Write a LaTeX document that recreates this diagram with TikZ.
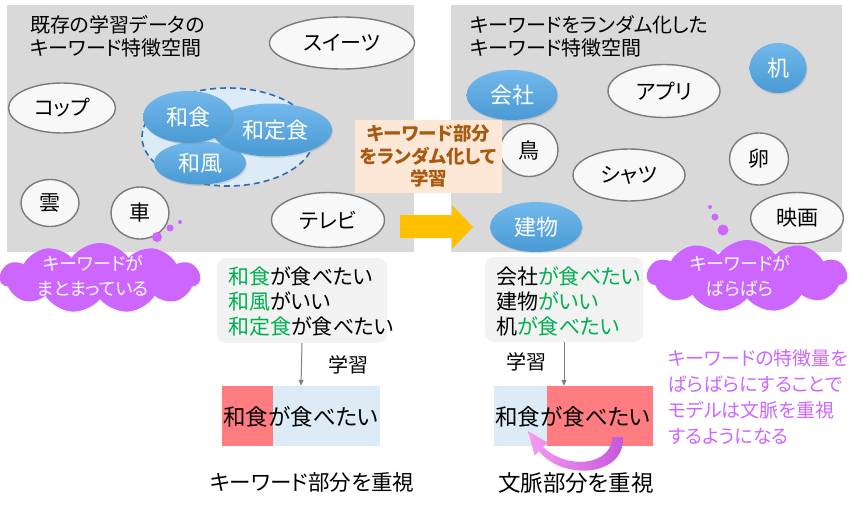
\documentclass[tikz,border=0pt]{standalone}
\usepackage{fontspec}
\setmainfont{Noto Sans CJK JP}[RawFeature=+palt]
\usetikzlibrary{shapes.geometric,shapes.symbols,arrows.meta,shadows}
\newcommand\myfs[2]{\fontsize{#1}{#2}\selectfont}
\definecolor{panelgray}{HTML}{D9D9D9}
\definecolor{ringgray}{HTML}{7A7A7A}
\definecolor{ellfill}{HTML}{F8F8F8}
\definecolor{blueTop}{HTML}{72B8EC}
\definecolor{blueBot}{HTML}{4A9AD4}
\definecolor{grpfill}{HTML}{DDEBF7}
\definecolor{grpline}{HTML}{2E6DB0}
\definecolor{peach}{HTML}{FDE8D8}
\definecolor{brown}{HTML}{A85A10}
\definecolor{arrowyellow}{HTML}{FFC000}
\definecolor{cloudpurple}{HTML}{CC66FF}
\definecolor{sentfill}{HTML}{F2F2F2}
\definecolor{kwgreen}{HTML}{00B050}
\definecolor{barred}{HTML}{FF7C80}
\definecolor{barblue}{HTML}{DDEBF7}
\definecolor{txtpurple}{HTML}{CC66FF}
\definecolor{arrowgray}{HTML}{808080}
\definecolor{curvepink}{HTML}{F59CF2}
\definecolor{curvepurple}{HTML}{C457DA}
\begin{document}
\begin{tikzpicture}[x=1pt,y=-1pt,
  panelbox/.style={rectangle, fill=panelgray, inner sep=0pt},
  wellip/.style={ellipse, draw=ringgray, line width=1.4pt, fill=ellfill, inner sep=0pt, font=\myfs{21}{25}},
  bellip/.style={ellipse, top color=blueTop, bottom color=blueBot, draw=none, inner sep=0pt, text=white, font=\myfs{22}{26},
    drop shadow={opacity=0.25, shadow xshift=1pt, shadow yshift=-1.5pt}},
  titletxt/.style={anchor=west, align=left, inner sep=0pt, font=\myfs{20}{23}},
  cloudshape/.style={cloud, cloud puffs=11, cloud puff arc=110, cloud ignores aspect, fill=cloudpurple, inner sep=0pt},
  cloudtxt/.style={align=center, text=white, inner sep=0pt, font=\myfs{18}{25}},
  bubble/.style={circle, fill=cloudpurple, inner sep=0pt},
  sentbox/.style={rectangle, rounded corners=9pt, fill=sentfill, inner sep=0pt},
  senttxt/.style={anchor=west, align=left, inner sep=0pt, font=\myfs{21}{25}},
  barpart/.style={rectangle, inner sep=0pt, minimum height=60pt},
  bartxt/.style={inner sep=0pt, font=\myfs{22.5}{26}},
  garrow/.style={draw=arrowgray, line width=1pt, -{Triangle[length=6pt,width=5pt]}},
  lbl/.style={inner sep=0pt, font=\myfs{20}{24}},
  sz/.style 2 args={minimum width=#1pt, minimum height=#2pt}
]
\useasboundingbox (0,0) rectangle (865,511);
\fill[white] (0,0) rectangle (865,511);

% panels
\node[panelbox, sz={407}{247}] (lpanel) at (210.5,128.5) {};
\node[panelbox, sz={391}{247}] (rpanel) at (646.5,128.5) {};

\node[titletxt] (ltitle) at (30,36.5) {既存の学習データの\\キーワード特徴空間};
\node[titletxt] (rtitle) at (470,36.5) {キーワードをランダム化した\\キーワード特徴空間};

% left feature space
\node[ellipse, fill=grpfill, draw=grpline, line width=1.6pt, dash pattern=on 6pt off 4pt, sz={172}{98}] (wgroup) at (228,137) {};
\node[wellip, sz={145}{52}] (sweets) at (342,43) {スイーツ};
\node[wellip, sz={107}{50}] (cup) at (62,108) {コップ};
\node[wellip, sz={58}{47}] (kumo) at (50,203) {雲};
\node[wellip, sz={58}{52}] (kuruma) at (140,213) {車};
\node[wellip, sz={113}{55}] (terebi) at (328,220) {テレビ};
\node[bellip, sz={92}{43}] (wafu) at (200,163) {和風};
\node[bellip, sz={120}{53}] (wateishoku) at (272,130) {\hspace*{6pt}和定食};
\node[bellip, sz={90}{52}] (washoku) at (188,117) {和食};

% right feature space
\node[bellip, sz={57}{50}] (tsukue) at (778,68) {机};
\node[bellip, sz={91}{50}] (kaisha) at (512,95) {会社};
\node[wellip, sz={112}{53}] (apuri) at (664,91) {アプリ};
\node[wellip, sz={58}{53}] (tori) at (529,150) {鳥};
\node[wellip, sz={112}{52}] (shatsu) at (629,175) {シャツ};
\node[wellip, sz={59}{52}] (tamago) at (759,159) {卵};
\node[wellip, sz={93}{51}] (eiga) at (797,218) {映画};
\node[bellip, sz={92}{50}] (tatemono) at (536,227) {建物};

% middle box and block arrow
\node[rectangle, fill=peach, inner sep=0pt, sz={147}{73}, align=center, text=brown, font=\bfseries\myfs{18.5}{22.5}] (midbox) at (428.5,156.5) {キーワード部分\\をランダム化して\\学習};
\fill[arrowyellow] (400,215) -- (452,215) -- (452,205) -- (473,227) -- (452,249) -- (452,238) -- (400,238) -- cycle;

% clouds
\node[cloudshape, sz={200}{70}] (lcloud) at (100,278) {};
\node[cloudtxt] (lcloudtxt) at (93,275.5) {キーワードが\\まとまっている};
\node[bubble, minimum size=10pt] (lb1) at (157,237) {};
\node[bubble, minimum size=7pt] (lb2) at (170,228) {};
\node[bubble, minimum size=4pt] (lb3) at (180,222) {};

\node[cloudshape, sz={200}{72}] (rcloud) at (747,276) {};
\node[cloudtxt] (rcloudtxt) at (740,276) {キーワードが\\ばらばら};
\node[bubble, minimum size=11pt] (rb1) at (723,230) {};
\node[bubble, minimum size=7pt] (rb2) at (715,217) {};
\node[bubble, minimum size=4pt] (rb3) at (710,207) {};

% sentence boxes
\node[sentbox, sz={170}{85}] (lsent) at (302,300.5) {};
\node[senttxt] (lsenttxt) at (228,302) {\textcolor{kwgreen}{和食}が食べたい\\\textcolor{kwgreen}{和風}がいい\\\textcolor{kwgreen}{和定食}が食べたい};
\node[sentbox, sz={158}{85}] (rsent) at (564,299.5) {};
\node[senttxt] (rsenttxt) at (496,301) {会社\textcolor{kwgreen}{が食べたい}\\建物\textcolor{kwgreen}{がいい}\\机\textcolor{kwgreen}{が食べたい}};

% bars
\node[barpart, fill=barblue, minimum width=158pt] (lbar) at (301,416) {};
\node[barpart, fill=barred, minimum width=51pt] (lbarkey) at (247.5,416) {};
\node[bartxt] (lbartxt) at (301,417) {和食が食べたい};
\node[barpart, fill=barred, minimum width=159pt] (rbar) at (573.5,416) {};
\node[barpart, fill=barblue, minimum width=53pt] (rbarkey) at (520.5,416) {};
\node[bartxt] (rbartxt) at (573,417) {和食が食べたい};

% learning arrows
\draw[garrow] (lsent.south) -- (lbar.north);
\draw[garrow] (rsent.south) -- (rsent.south |- rbar.north);
\node[lbl] (llearn) at (348,365) {学習};
\node[lbl] (rlearn) at (526,362) {学習};

% curved emphasis arrow
\shade[left color=curvepink, right color=curvepurple]
  (612,437) .. controls (612,466) and (566,470) .. (543.1,446.9)
  -- (547.4,442.6) -- (528,431) -- (534.6,455.4) -- (538.9,451.1)
  .. controls (561,480) and (625,478) .. (623,437) -- cycle;

% bottom labels
\node[lbl, font=\myfs{21.5}{25}] (lfocus) at (312,482) {キーワード部分を重視};
\node[lbl, font=\myfs{22.5}{26}] (rfocus) at (576,483) {文脈部分を重視};

\node[anchor=west, align=left, inner sep=0pt, text=txtpurple, font=\myfs{19}{25.7}] (note) at (668,397) {キーワードの特徴量を\\ばらばらにすることで\\モデルは文脈を重視\\するようになる};
\end{tikzpicture}
\end{document}
